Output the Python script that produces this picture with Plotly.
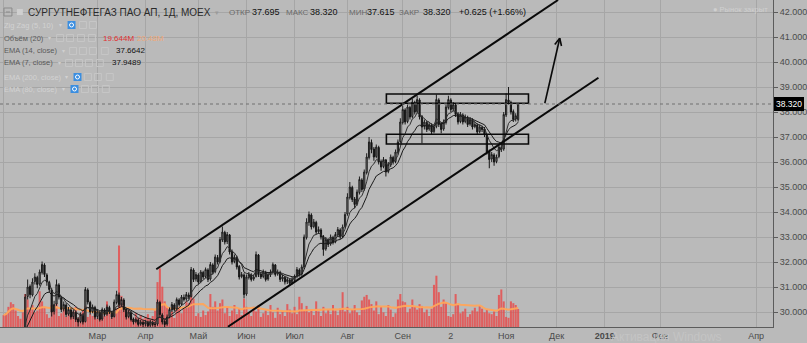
import numpy as np
import pandas as pd
import plotly.graph_objects as go

# ---------------- data ----------------
holidays = ["2018-01-08", "2018-02-23", "2018-03-08", "2018-03-09", "2018-05-01",
            "2018-05-02", "2018-05-09", "2018-06-11", "2018-06-12", "2018-11-05"]
extra_sessions = ["2018-04-28", "2018-06-09"]
future_holidays = ["2018-12-31", "2019-03-08"]

opens = [
    28.85, 28.92, 29.02, 28.97, 29.08, 29.00, 29.07, 29.18, 29.14, 29.32,
    30.62, 31.02, 30.68, 31.22, 31.38, 31.12, 31.58, 31.88, 31.48, 31.18,
    30.88, 30.02, 30.32, 31.08, 30.58, 30.12, 30.28, 29.92, 30.08, 29.82,
    29.98, 29.72, 29.62, 29.88, 29.62, 30.88, 30.38, 30.02, 30.18,
    29.82, 29.98, 29.72, 30.08, 29.92, 30.18, 29.98, 29.82, 30.38, 30.68,
    30.32, 30.48, 30.12, 29.82, 29.98, 29.72, 29.62, 29.68, 29.52, 29.58,
    29.52, 29.58, 29.47, 29.58, 29.52, 29.52, 30.38, 29.88, 29.62, 29.52,
    29.82, 30.08, 30.28, 30.12, 30.48, 30.32, 30.58, 30.52, 30.68, 30.62,
    31.68, 31.32,
    31.48, 31.22, 31.58, 31.42, 31.68, 31.32, 31.88, 31.62, 32.18, 32.02,
    32.88, 33.18, 32.82, 33.08, 32.42, 32.02, 32.18, 31.82, 31.42, 31.48,
    30.72, 31.38, 31.48, 31.32, 31.42, 32.28, 31.52, 31.42, 31.58, 31.32,
    31.48, 31.58, 31.88, 31.52, 31.58, 31.32, 31.38, 31.22, 31.28, 31.17,
    31.28, 31.42, 31.68, 31.52, 31.82, 32.98, 33.58, 33.88, 33.42, 33.58,
    33.22, 33.28, 33.02, 32.52, 32.88, 32.72, 32.98, 32.82, 33.08, 33.28,
    33.02, 33.42,
    33.92, 34.58, 34.98, 34.52, 34.32, 34.78, 35.28, 34.92, 35.58, 36.18,
    36.78, 36.52, 36.22, 36.58, 36.02, 35.82, 36.08, 35.62, 35.88, 36.18,
    36.02, 36.38, 36.82,
    37.58, 38.08, 37.62, 38.18, 37.82, 38.38, 38.02, 38.48, 37.82, 37.42,
    37.58, 37.32, 37.48, 37.22, 37.42, 38.48, 37.52, 37.32, 37.58, 38.18,
    38.48, 38.12, 38.28, 37.92, 37.62, 37.88, 37.62, 37.78, 37.52, 37.68,
    37.42, 37.48, 37.22, 37.38, 37.32, 37.08, 36.42, 36.12, 36.28, 36.02,
    36.22, 36.58, 36.52,
    37.88, 38.48, 38.38, 38.02, 37.72, 37.695,
]
highs = [
    29.00, 29.08, 29.10, 29.18, 29.15, 29.12, 29.28, 29.25, 29.38, 30.72,
    31.30, 31.10, 31.35, 31.55, 31.45, 31.70, 32.02, 31.95, 31.55, 31.25,
    30.95, 30.45, 31.30, 31.15, 30.65, 30.42, 30.35, 30.20, 30.15, 30.10,
    30.05, 29.80, 29.98, 29.95, 31.00, 30.95, 30.45, 30.30, 30.25,
    30.10, 30.05, 30.18, 30.15, 30.30, 30.25, 30.05, 30.50, 30.85, 30.78,
    30.60, 30.55, 30.18, 30.08, 30.05, 29.78, 29.78, 29.75, 29.68, 29.65,
    29.68, 29.65, 29.68, 29.65, 29.60, 30.50, 30.45, 29.95, 29.70, 29.90,
    30.18, 30.40, 30.35, 30.58, 30.55, 30.68, 30.70, 30.80, 30.78, 31.80,
    31.75, 31.60,
    31.55, 31.68, 31.65, 31.78, 31.75, 32.00, 31.95, 32.30, 32.28, 33.00,
    33.42, 33.25, 33.20, 33.12, 32.50, 32.30, 32.25, 31.88, 31.60, 31.55,
    31.50, 31.60, 31.55, 31.50, 32.42, 32.32, 31.60, 31.70, 31.65, 31.60,
    31.70, 31.98, 31.92, 31.70, 31.65, 31.50, 31.45, 31.40, 31.35, 31.40,
    31.50, 31.80, 31.75, 31.90, 33.10, 33.75, 34.02, 33.95, 33.72, 33.65,
    33.42, 33.35, 33.08, 33.00, 32.95, 33.10, 33.05, 33.20, 33.40, 33.35,
    33.50, 34.00,
    34.75, 35.20, 35.05, 34.60, 34.90, 35.42, 35.35, 35.70, 36.35, 37.00,
    36.90, 36.60, 36.70, 36.65, 36.10, 36.20, 36.12, 36.00, 36.30, 36.25,
    36.50, 36.90, 37.75,
    38.25, 38.15, 38.30, 38.25, 38.52, 38.45, 38.65, 38.55, 37.88, 37.70,
    37.65, 37.60, 37.55, 37.50, 38.70, 38.55, 37.60, 37.70, 38.30, 38.65,
    38.55, 38.40, 38.35, 38.00, 38.00, 37.95, 37.90, 37.85, 37.80, 37.75,
    37.60, 37.55, 37.50, 37.45, 37.40, 37.12, 36.50, 36.40, 36.35, 36.30,
    36.72, 36.80, 38.00,
    38.75, 39.00, 38.45, 38.10, 37.95, 38.32,
]
lows = [
    28.75, 28.85, 28.88, 28.92, 28.94, 28.95, 29.02, 29.08, 29.10, 29.25,
    30.50, 30.55, 30.62, 31.10, 30.95, 31.05, 31.50, 31.40, 31.05, 30.80,
    29.82, 29.90, 30.25, 30.50, 30.00, 30.02, 29.80, 29.85, 29.70, 29.72,
    29.60, 29.42, 29.55, 29.50, 29.58, 30.30, 29.90, 29.95, 29.70,
    29.72, 29.62, 29.65, 29.82, 29.85, 29.92, 29.72, 29.78, 30.30, 30.20,
    30.22, 30.00, 29.70, 29.75, 29.62, 29.50, 29.55, 29.42, 29.45, 29.40,
    29.42, 29.35, 29.40, 29.42, 29.38, 29.45, 29.80, 29.50, 29.38, 29.45,
    29.75, 30.00, 30.02, 30.05, 30.22, 30.25, 30.42, 30.45, 30.50, 30.58,
    31.20, 31.22,
    31.10, 31.15, 31.30, 31.35, 31.20, 31.25, 31.50, 31.55, 31.90, 31.95,
    32.80, 32.70, 32.72, 32.30, 31.90, 31.95, 31.70, 31.30, 31.35, 30.55,
    30.65, 31.30, 31.22, 31.25, 31.38, 31.40, 31.32, 31.35, 31.22, 31.25,
    31.40, 31.50, 31.42, 31.45, 31.20, 31.22, 31.10, 31.12, 31.08, 31.10,
    31.20, 31.35, 31.42, 31.45, 31.78, 32.90, 33.45, 33.30, 33.35, 33.10,
    33.12, 32.90, 32.25, 32.45, 32.60, 32.65, 32.70, 32.75, 33.00, 32.92,
    32.95, 33.35,
    33.85, 34.50, 34.40, 34.15, 34.25, 34.70, 34.80, 34.85, 35.50, 36.10,
    36.35, 36.05, 36.15, 35.90, 35.65, 35.75, 35.42, 35.55, 35.80, 35.90,
    35.95, 36.30, 36.75,
    37.50, 37.50, 37.55, 37.70, 37.75, 37.90, 37.95, 37.70, 36.75, 37.30,
    37.20, 37.25, 37.10, 37.15, 37.35, 37.40, 37.15, 37.25, 37.50, 38.10,
    38.00, 38.02, 37.80, 37.50, 37.55, 37.50, 37.55, 37.40, 37.45, 37.30,
    37.35, 37.10, 37.15, 37.20, 37.00, 36.30, 35.75, 36.00, 35.85, 35.95,
    36.15, 36.40, 36.45,
    37.80, 38.30, 37.90, 37.60, 37.62, 37.615,
]
closes = [
    28.90, 29.00, 28.95, 29.10, 29.00, 29.05, 29.20, 29.15, 29.30, 30.60,
    31.00, 30.70, 31.20, 31.40, 31.10, 31.60, 31.90, 31.50, 31.20, 30.90,
    30.00, 30.30, 31.10, 30.60, 30.10, 30.30, 29.90, 30.10, 29.80, 30.00,
    29.70, 29.60, 29.90, 29.60, 30.90, 30.40, 30.00, 30.20, 29.80,
    30.00, 29.70, 30.10, 29.90, 30.20, 30.00, 29.80, 30.40, 30.70, 30.30,
    30.50, 30.10, 29.80, 30.00, 29.70, 29.60, 29.70, 29.50, 29.60, 29.50,
    29.60, 29.45, 29.60, 29.50, 29.50, 30.40, 29.90, 29.60, 29.50, 29.80,
    30.10, 30.30, 30.10, 30.50, 30.30, 30.60, 30.50, 30.70, 30.60, 31.70,
    31.30, 31.50,
    31.20, 31.60, 31.40, 31.70, 31.30, 31.90, 31.60, 32.20, 32.00, 32.90,
    33.20, 32.80, 33.10, 32.40, 32.00, 32.20, 31.80, 31.40, 31.50, 30.70,
    31.40, 31.50, 31.30, 31.40, 32.30, 31.50, 31.40, 31.60, 31.30, 31.50,
    31.60, 31.90, 31.50, 31.60, 31.30, 31.40, 31.20, 31.30, 31.15, 31.30,
    31.40, 31.70, 31.50, 31.80, 33.00, 33.60, 33.90, 33.40, 33.60, 33.20,
    33.30, 33.00, 32.50, 32.90, 32.70, 33.00, 32.80, 33.10, 33.30, 33.00,
    33.40, 33.90,
    34.60, 35.00, 34.50, 34.30, 34.80, 35.30, 34.90, 35.60, 36.20, 36.80,
    36.50, 36.20, 36.60, 36.00, 35.80, 36.10, 35.60, 35.90, 36.20, 36.00,
    36.40, 36.80, 37.60,
    38.10, 37.60, 38.20, 37.80, 38.40, 38.00, 38.50, 37.80, 37.40, 37.60,
    37.30, 37.50, 37.20, 37.40, 38.50, 37.50, 37.30, 37.60, 38.20, 38.50,
    38.10, 38.30, 37.90, 37.60, 37.90, 37.60, 37.80, 37.50, 37.70, 37.40,
    37.50, 37.20, 37.40, 37.30, 37.10, 36.40, 36.10, 36.30, 36.00, 36.20,
    36.60, 36.50, 37.90,
    38.50, 38.40, 38.00, 37.70, 37.85, 38.32,
]
volumes_m = [
    13, 15, 22, 27, 25, 18, 12, 9, 16, 36,
    30, 20, 24, 16, 18, 39, 28, 22, 14, 10,
    24, 18, 26, 12, 15, 20, 11, 18, 14, 17,
    22, 10, 15, 19, 23, 11, 14, 12, 20,
    9, 13, 16, 12, 28, 18, 10, 15, 20, 89,
    34, 26, 15, 19, 12, 8, 15, 10, 13, 9,
    11, 14, 9, 12, 18, 49, 64, 44, 28, 22,
    14, 17, 10, 19, 22, 15, 20, 28, 26, 36,
    31, 12,
    15, 11, 18, 13, 17, 36, 22, 28, 18, 26,
    30, 15, 22, 12, 18, 24, 14, 20, 13, 31,
    22, 16, 12, 22, 17, 24, 11, 15, 18, 13,
    24, 16, 10, 21, 14, 17, 12, 25, 19, 15,
    22, 14, 33, 26, 18, 23, 16, 19, 13, 28,
    17, 12, 22, 15, 19, 14, 24, 18, 13, 20,
    38, 17,
    22, 15, 19, 24, 16, 13, 29, 33, 35, 30,
    25, 18, 28, 14, 22, 16, 12, 24, 19, 11,
    15, 30, 36,
    28, 27, 16, 20, 30, 22, 19, 25, 23, 16,
    19, 12, 20, 46, 56, 38, 22, 30, 26, 12,
    11, 14, 36, 24, 15, 17, 20, 11, 14, 18,
    21, 17, 23, 20, 16, 19, 15, 14, 17, 12,
    35, 41, 28,
    11, 10, 28, 26, 24, 19.644,
]

tick_months = [(2018, 1), (2018, 3), (2018, 4), (2018, 5), (2018, 6), (2018, 7),
               (2018, 8), (2018, 9), (2018, 10), (2018, 11), (2018, 12),
               (2019, 1), (2019, 2), (2019, 4)]
tick_labels = ["<b>2018</b>", "Мар", "Апр", "Май", "Июн", "Июл", "Авг", "Сен", "2",
               "Ноя", "Дек", "<b>2019</b>", "Фев", "Апр"]

last_price = 38.320
# drawings (bar index, price)
upper_channel = [(63.5, 31.71), (230.6, 42.48)]
lower_channel = [(93.3, 29.41), (247.4, 39.37)]
upper_box = [(159.2, 38.35), (218.3, 38.72)]
lower_box = [(159.2, 36.72), (218.3, 37.11)]
arrow_line = [(225.1, 38.35), (231.3, 40.95)]

# ---------------- calendar ----------------
d = pd.bdate_range("2018-01-03", "2018-11-09")
d = d[~d.isin(pd.to_datetime(holidays))]
d = d.append(pd.to_datetime(extra_sessions)).sort_values()
fut = pd.bdate_range("2018-11-12", "2019-05-31")
fut = fut[~fut.isin(pd.to_datetime(future_holidays))]
all_dates = d.append(fut)
n = min(len(d), len(closes))
idx = np.arange(n)

tickvals = []
for (yy, mm) in tick_months:
    pos = np.where((all_dates.year == yy) & (all_dates.month == mm))[0]
    tickvals.append(int(pos[0]))

close_s = pd.Series(closes[:n])
ema14 = close_s.ewm(span=14, adjust=False).mean()
ema7 = close_s.ewm(span=7, adjust=False).mean()
vol_s = pd.Series(volumes_m[:n])
vol_ma = vol_s.rolling(20, min_periods=1).mean()

# ---------------- figure ----------------
BG = "#bababa"
GRID = "#a6a6a6"
W, H = 807, 343
ML, MR, MT, MB = 0, 29, 0, 16
PW, PH = W - ML - MR, H - MT - MB
XR = [-1.5, 320.0]
YR = [29.4, 42.48]

fig = go.Figure()
fig.add_trace(go.Bar(x=idx, y=vol_s, marker=dict(color="rgba(232,72,72,0.8)", line=dict(width=0)),
                     yaxis="y", hoverinfo="skip", showlegend=False))
fig.add_trace(go.Scatter(x=idx, y=vol_ma, mode="lines", line=dict(color="rgba(255,165,90,0.95)", width=2),
                         yaxis="y", hoverinfo="skip", showlegend=False))
fig.add_trace(go.Candlestick(
    x=idx, open=opens[:n], high=highs[:n], low=lows[:n], close=closes[:n], yaxis="y2",
    increasing=dict(line=dict(color="#1e1e1e", width=1), fillcolor="#8e8e8e"),
    decreasing=dict(line=dict(color="#151515", width=1), fillcolor="#151515"),
    hoverinfo="skip", showlegend=False))
fig.add_trace(go.Scatter(x=idx, y=ema14, mode="lines", line=dict(color="#1a1a1a", width=1),
                         yaxis="y2", hoverinfo="skip", showlegend=False))
fig.add_trace(go.Scatter(x=idx, y=ema7, mode="lines", line=dict(color="#2e2e2e", width=1),
                         yaxis="y2", hoverinfo="skip", showlegend=False))

shapes = []
for seg in (upper_channel, lower_channel):
    shapes.append(dict(type="line", xref="x", yref="y2", x0=seg[0][0], y0=seg[0][1],
                       x1=seg[1][0], y1=seg[1][1], line=dict(color="#0a0a0a", width=2)))
for bx in (upper_box, lower_box):
    shapes.append(dict(type="rect", xref="x", yref="y2", x0=bx[0][0], y0=bx[0][1],
                       x1=bx[1][0], y1=bx[1][1], line=dict(color="#0a0a0a", width=1.6)))
shapes.append(dict(type="line", xref="x", yref="y2", x0=arrow_line[0][0], y0=arrow_line[0][1],
                   x1=arrow_line[1][0], y1=arrow_line[1][1], line=dict(color="#0a0a0a", width=1.6)))
# arrow head wings
sx = PW / (XR[1] - XR[0])
sy = PH / (YR[1] - YR[0])
(tx0, ty0), (tx1, ty1) = arrow_line
vx, vy = (tx1 - tx0) * sx, (ty1 - ty0) * sy
L = np.hypot(vx, vy)
ux, uy = -vx / L, -vy / L
for ang in (0.45, -0.45):
    wx = ux * np.cos(ang) - uy * np.sin(ang)
    wy = ux * np.sin(ang) + uy * np.cos(ang)
    shapes.append(dict(type="line", xref="x", yref="y2", x0=tx1, y0=ty1,
                       x1=tx1 + 8 * wx / sx, y1=ty1 + 8 * wy / sy,
                       line=dict(color="#0a0a0a", width=1.6)))
# last price dotted line
shapes.append(dict(type="line", xref="paper", yref="y2", x0=0, x1=1, y0=last_price, y1=last_price,
                   line=dict(color="#707070", width=1, dash="dot")))


def pxx(x):
    return x / PW


def pyy(y):
    return 1 - y / PH


# legend icons
def icon(x0, yc, blue=False):
    if blue:
        shapes.append(dict(type="rect", xref="paper", yref="paper", x0=pxx(x0), x1=pxx(x0 + 8),
                           y0=pyy(yc + 4), y1=pyy(yc - 4), line=dict(width=0), fillcolor="#3b8ee0"))
        shapes.append(dict(type="circle", xref="paper", yref="paper", x0=pxx(x0 + 2), x1=pxx(x0 + 6),
                           y0=pyy(yc + 2), y1=pyy(yc - 2), line=dict(color="white", width=1)))
    else:
        shapes.append(dict(type="rect", xref="paper", yref="paper", x0=pxx(x0), x1=pxx(x0 + 7),
                           y0=pyy(yc + 3.5), y1=pyy(yc - 3.5), line=dict(color="#c6c6c6", width=1)))


icon(68, 25, blue=True)
for x0 in (80, 90):
    icon(x0, 25)
for x0 in (57, 67, 78, 89):
    icon(x0, 38)
for x0 in (70, 80, 90, 102):
    icon(x0, 51)
for x0 in (66, 76, 86, 97):
    icon(x0, 63)
icon(74, 77, blue=True)
for x0 in (85, 95, 107):
    icon(x0, 77)
icon(71, 89, blue=True)
for x0 in (82, 92, 103):
    icon(x0, 89)
# top-left toolbar squares
shapes.append(dict(type="rect", xref="paper", yref="paper", x0=pxx(4), x1=pxx(12), y0=pyy(16), y1=pyy(8),
                   line=dict(color="#8a8a8a", width=1)))
shapes.append(dict(type="line", xref="paper", yref="paper", x0=pxx(6), x1=pxx(10), y0=pyy(12), y1=pyy(12),
                   line=dict(color="#8a8a8a", width=1)))
shapes.append(dict(type="rect", xref="paper", yref="paper", x0=pxx(17), x1=pxx(23), y0=pyy(15), y1=pyy(9),
                   line=dict(width=0), fillcolor="#cfcfcf"))

FONT = "Liberation Sans, Arial, sans-serif"
ann = []


def txt(x, y, s, size=9, color="#222", bold=False):
    if bold:
        s = "<b>" + s + "</b>"
    ann.append(dict(x=pxx(x), y=pyy(y), xref="paper", yref="paper", text=s, showarrow=False,
                    xanchor="left", yanchor="middle", font=dict(family=FONT, size=size, color=color),
                    borderpad=0))


txt(27, 12, "СУРГУТНЕФТЕГАЗ ПАО АП, 1Д, MOEX", 10, "#2a2a2a")
txt(215, 12, "▾", 7, "#9a9a9a")
txt(229, 12, "ОТКР", 8, "#6a6a6a")
txt(253, 12, "37.695", 9, "#111")
txt(287, 12, "МАКС", 8, "#6a6a6a")
txt(311, 12, "38.320", 9, "#111")
txt(350, 12, "МИН", 8, "#6a6a6a")
txt(368, 12, "37.615", 9, "#111")
txt(401, 12, "ЗАКР", 8, "#6a6a6a")
txt(425, 12, "38.320", 9, "#111")
txt(461, 12, "+0.625 (+1.66%)", 9, "#111")

txt(3, 25, "Zig Zag (5, 10)", 7.5, "#d2d2d2")
txt(58, 25, "▾", 6, "#d2d2d2")
txt(3, 38, "Объём (20)", 7.5, "#5a5a5a")
txt(47, 38, "▾", 6, "#cfcfcf")
txt(103, 38, "19.644M", 8, "#e03030")
txt(137, 38, "20.48M", 8, "#f0a878")
txt(3, 51, "EMA (14, close)", 7.5, "#5a5a5a")
txt(61, 51, "▾", 6, "#cfcfcf")
txt(116, 51, "37.6642", 8, "#111")
txt(3, 63, "EMA (7, close)", 7.5, "#5a5a5a")
txt(57, 63, "▾", 6, "#cfcfcf")
txt(112, 63, "37.9489", 8, "#111")
txt(3, 77, "EMA (200, close)", 7.5, "#d2d2d2")
txt(64, 77, "▾", 6, "#d2d2d2")
txt(3, 89, "EMA (80, close)", 7.5, "#d2d2d2")
txt(61, 89, "▾", 6, "#d2d2d2")

txt(717, 10, "● Рынок закрыт", 7.5, "#d0d0d0")
txt(614, 337, "Активация Windows", 12, "#c4c4c4")

ann.append(dict(x=pxx(779), y=last_price, xref="paper", yref="y2", text="38.320", showarrow=False,
                xanchor="left", yanchor="middle", bgcolor="#000000", bordercolor="#000000", borderpad=1,
                font=dict(family=FONT, size=8.5, color="#ffffff")))

fig.update_layout(
    width=W, height=H, margin=dict(l=ML, r=MR, t=MT, b=MB),
    paper_bgcolor=BG, plot_bgcolor=BG, showlegend=False, bargap=0.15,
    shapes=shapes, annotations=ann, hovermode=False,
    xaxis=dict(range=XR, tickvals=tickvals, ticktext=tick_labels, showgrid=True, gridcolor=GRID,
               gridwidth=1, zeroline=False, showline=True, linecolor="#5c5c5c", linewidth=1,
               ticks="", tickfont=dict(family=FONT, size=9, color="#4a4a4a"),
               rangeslider=dict(visible=False), fixedrange=True),
    yaxis=dict(range=[0, 357], visible=False, showgrid=False, fixedrange=True),
    yaxis2=dict(range=YR, overlaying="y", side="right", dtick=1, tick0=30, tickformat=".3f",
                showgrid=True, gridcolor=GRID, gridwidth=1, zeroline=False, showline=True,
                linecolor="#5c5c5c", linewidth=1, ticks="outside", ticklen=4, tickcolor="#5c5c5c",
                tickfont=dict(family=FONT, size=9, color="#4a4a4a"), fixedrange=True),
)

fig.write_html("out.html", config={"displayModeBar": False, "staticPlot": True})
